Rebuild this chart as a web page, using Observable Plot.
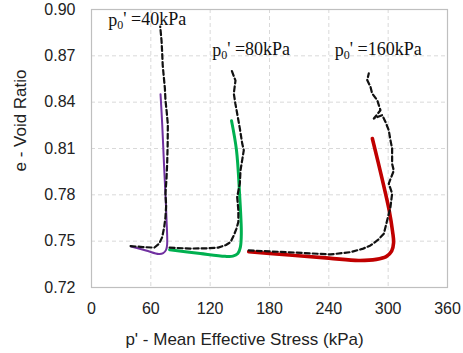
<!DOCTYPE html>
<html>
<head>
<meta charset="utf-8">
<script src="https://cdn.jsdelivr.net/npm/d3@7"></script>
<script src="https://cdn.jsdelivr.net/npm/@observablehq/plot@0.6"></script>
<style>
  html, body { margin: 0; padding: 0; background: #fff; }
</style>
</head>
<body>
<div id="chart"></div>
<script>
// ---- Data ----
const xTicks = [0, 60, 120, 180, 240, 300, 360];
const yTicks = [0.72, 0.75, 0.78, 0.81, 0.84, 0.87, 0.90];

// Experimental (dashed black)
const exp40P = [39.5, 52, 63.5, 68.5, 71.5, 73.5, 74.8, 75.5, 74.8, 75.8, 76.5, 77.0, 77.2, 76.0, 74.8, 74.2, 73.1, 72.0, 71.5, 70.8, 69.5];
const exp40E = [0.7468, 0.7462, 0.7458, 0.7485, 0.7526, 0.759, 0.7656, 0.773, 0.781, 0.790, 0.800, 0.812, 0.8257, 0.834, 0.8413, 0.849, 0.8564, 0.864, 0.8716, 0.880, 0.889];

const exp80P = [79, 100, 118, 128, 136, 140.6, 143.9, 146.5, 148.5, 148.5, 147.3, 150, 150.7, 152.5, 154, 152.4, 150, 147.3, 145.5, 143.9, 145.6, 141.6];
const exp80E = [0.7458, 0.7452, 0.7454, 0.7458, 0.7475, 0.7494, 0.7537, 0.758, 0.7625, 0.770, 0.7786, 0.7873, 0.7959, 0.803, 0.8089, 0.8132, 0.823, 0.8327, 0.839, 0.8456, 0.854, 0.8608];

const exp160P = [159, 200, 241.7, 262, 274, 282.1, 290, 295.6, 299, 302.3, 304, 300.6, 305.7, 304, 304, 302.3, 300.6, 297.3, 294, 285.5, 292.2, 288.9, 283.8, 282.1, 278.8, 280.4];
const exp160E = [0.744, 0.7428, 0.7414, 0.7429, 0.745, 0.7472, 0.751, 0.7548, 0.7635, 0.7721, 0.7808, 0.7873, 0.7957, 0.800, 0.810, 0.8154, 0.8218, 0.8272, 0.8316, 0.8294, 0.8348, 0.8413, 0.8456, 0.850, 0.8543, 0.8586];

// Model (solid coloured)
const mod40P = [40, 55, 68, 72.5, 75.5, 76.5, 75.8, 74.8, 73.3, 71.5, 69.8];
const mod40E = [0.7465, 0.744, 0.7417, 0.7422, 0.7445, 0.748, 0.765, 0.780, 0.800, 0.8257, 0.8452];

const mod80P = [79, 110, 135, 143, 148, 150.5, 151.5, 149.7, 146.6, 141.6];
const mod80E = [0.7445, 0.742, 0.7402, 0.7403, 0.742, 0.746, 0.755, 0.781, 0.809, 0.828];

const mod160P = [159, 200, 240, 270, 288, 298, 303.5, 305.5, 304.5, 301, 294, 284];
const mod160E = [0.7432, 0.741, 0.739, 0.7375, 0.7382, 0.740, 0.7435, 0.749, 0.756, 0.770, 0.790, 0.8165];

// Annotations
const labelNames = ["p0' =40kPa", "p0' =80kPa", "p0' =160kPa"];
const labelP = [17, 122, 246];
const labelE = [0.8893, 0.8698, 0.8698];

const xTitle = "p' - Mean Effective Stress (kPa)";
const yTitle = "e - Void Ratio";

// ---- Build tables ----
const zip = (P, E) => P.map((p, i) => ({p, e: E[i]}));
const labels = labelNames.map((t, i) => ({t, p: labelP[i], e: labelE[i]}));

const dashed = {x: "p", y: "e", stroke: "#111", strokeWidth: 2.2, strokeDasharray: "5,3", strokeLinejoin: "round"};

const chart = Plot.plot({
  width: 463,
  height: 353,
  marginLeft: 91,
  marginRight: 16,
  marginTop: 9,
  marginBottom: 66,
  style: {fontFamily: "'Liberation Sans', Arial, sans-serif", fontSize: "16px", color: "#222", background: "#fff"},
  x: {domain: [0, 360]},
  y: {domain: [0.72, 0.90]},
  marks: [
    Plot.gridX(xTicks, {stroke: "#d9d9d9", strokeOpacity: 1, strokeDasharray: "4,3"}),
    Plot.gridY(yTicks, {stroke: "#d9d9d9", strokeOpacity: 1, strokeDasharray: "4,3"}),
    Plot.frame({stroke: "#bfbfbf", strokeWidth: 1.2}),
    Plot.axisX({ticks: xTicks, tickSize: 0, tickPadding: 15, label: null, fill: "#222"}),
    Plot.axisY({ticks: yTicks, tickSize: 0, tickPadding: 16, label: null, tickFormat: d3.format(".2f"), fill: "#222"}),
    Plot.line(zip(mod40P, mod40E), {x: "p", y: "e", stroke: "#7030A0", strokeWidth: 2, curve: "catmull-rom"}),
    Plot.line(zip(mod80P, mod80E), {x: "p", y: "e", stroke: "#00B050", strokeWidth: 3, curve: "catmull-rom"}),
    Plot.line(zip(mod160P, mod160E), {x: "p", y: "e", stroke: "#C00000", strokeWidth: 3.6, curve: "catmull-rom"}),
    Plot.line(zip(exp40P, exp40E), dashed),
    Plot.line(zip(exp80P, exp80E), dashed),
    Plot.line(zip(exp160P, exp160E), dashed),
    Plot.text(labels, {x: "p", y: "e", text: "t", textAnchor: "start", lineAnchor: "bottom", fontFamily: "'Liberation Serif', 'Times New Roman', serif", fontSize: 18, fill: "#111"}),
    Plot.text([xTitle], {frameAnchor: "bottom", textAnchor: "middle", dx: -25, dy: 57, fontSize: 17, fill: "#222"}),
    Plot.text([yTitle], {frameAnchor: "left", textAnchor: "middle", rotate: -90, dx: -71, dy: -28, fontSize: 17, fill: "#222"})
  ]
});

document.getElementById("chart").appendChild(chart);

// Subscript "0" in the p0' annotations (kept as real text)
d3.select(chart).selectAll("text").each(function() {
  const el = d3.select(this);
  const s = this.textContent;
  if (s.startsWith("p0'")) {
    el.text(null);
    el.append("tspan").text("p");
    el.append("tspan").attr("font-size", "12px").attr("dy", "0.25em").text("0");
    el.append("tspan").attr("dy", "-0.25em").text(s.slice(2));
  }
});
</script>
</body>
</html>
